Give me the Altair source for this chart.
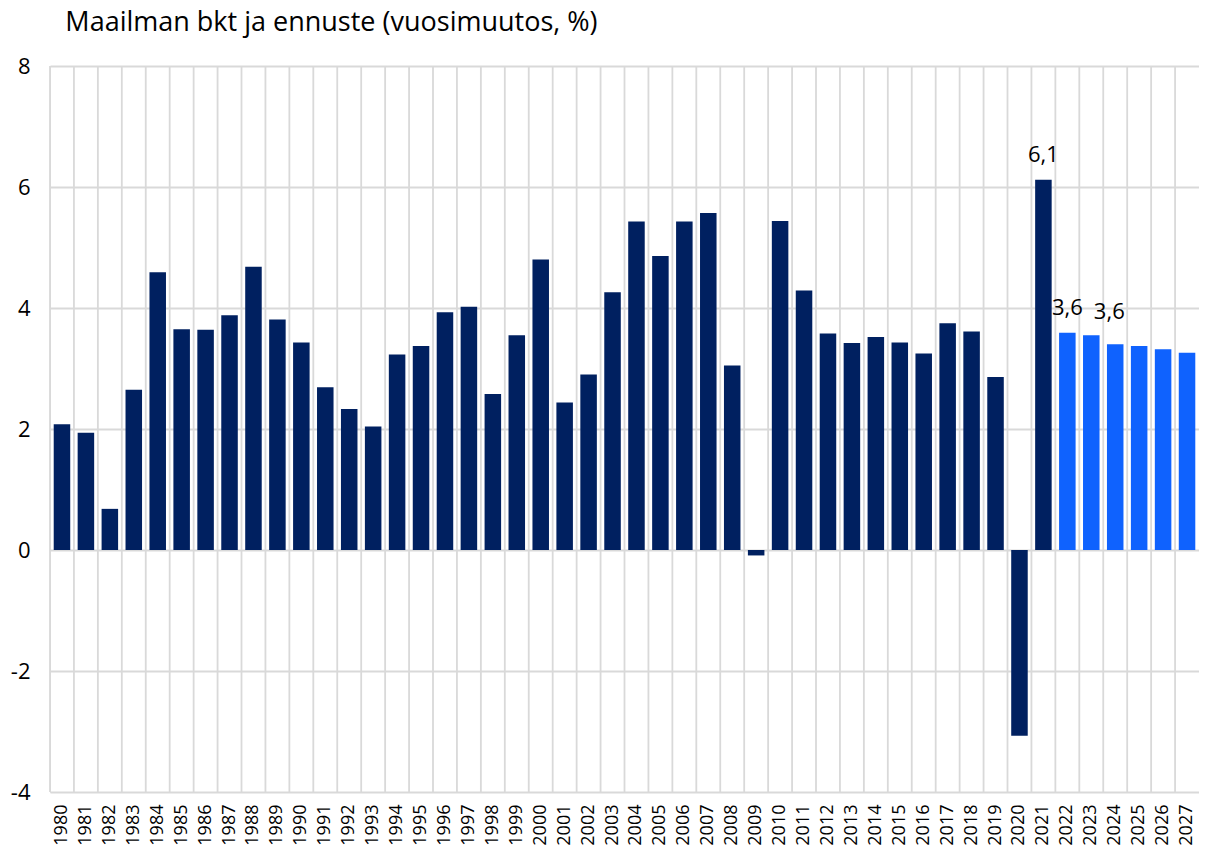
import altair as alt
import pandas as pd

years = ["1980", "1981", "1982", "1983", "1984", "1985", "1986", "1987", "1988", "1989",
         "1990", "1991", "1992", "1993", "1994", "1995", "1996", "1997", "1998", "1999",
         "2000", "2001", "2002", "2003", "2004", "2005", "2006", "2007", "2008", "2009",
         "2010", "2011", "2012", "2013", "2014", "2015", "2016", "2017", "2018", "2019",
         "2020", "2021", "2022", "2023", "2024", "2025", "2026", "2027"]

growth = [2.08, 1.94, 0.68, 2.65, 4.59, 3.65, 3.64, 3.88, 4.68, 3.81,
          3.43, 2.69, 2.33, 2.04, 3.23, 3.37, 3.93, 4.02, 2.58, 3.55,
          4.80, 2.44, 2.90, 4.26, 5.43, 4.86, 5.43, 5.57, 3.05, -0.09,
          5.44, 4.29, 3.58, 3.42, 3.52, 3.43, 3.25, 3.75, 3.61, 2.86,
          -3.07, 6.12, 3.59, 3.55, 3.40, 3.37, 3.32, 3.26]

kind = ["Toteutunut"] * 42 + ["Ennuste"] * 6

label_years = ["2021", "2022"]
label_texts = ["6,1", "3,6"]
shifted_label_years = ["2023"]
shifted_label_texts = ["3,6"]

y_ticks = [-4, -2, 0, 2, 4, 6, 8]

FONT = "Open Sans"
PLOT_W = 1149
PLOT_H = 726

df = pd.DataFrame({"year": years, "growth": growth, "kind": kind})
lookup = dict(zip(years, growth))
lab = pd.DataFrame({"year": label_years, "growth": [lookup[y] for y in label_years], "text": label_texts})
lab2 = pd.DataFrame({"year": shifted_label_years, "growth": [lookup[y] for y in shifted_label_years],
                     "text": shifted_label_texts})

x_scale = alt.Scale(domain=years, paddingInner=0, paddingOuter=0)
y_scale = alt.Scale(domain=[-4, 8], nice=False, zero=False)

x_axis = alt.Axis(grid=False, ticks=False, tickSize=0, domain=False, labelAngle=270,
                  labelFont=FONT, labelFontSize=18, labelColor="#000000",
                  labelPadding=12, labelOverlap=False)
y_axis = alt.Axis(values=y_ticks, labelExpr="'' + datum.value", grid=True, gridColor="#d9d9d9",
                  gridWidth=1.8, ticks=False, tickSize=0, domain=False, labelFont=FONT,
                  labelFontSize=22, labelColor="#000000", labelPadding=20)

vgrid = alt.Chart(df).mark_rule(color="#d9d9d9", strokeWidth=1.8).encode(
    x=alt.X("year:N", scale=x_scale, sort=years, bandPosition=0, title=None, axis=x_axis),
    y=alt.value(0),
    y2=alt.value(PLOT_H),
)

bars = alt.Chart(df).mark_bar(width=alt.RelativeBandSize(0.69)).encode(
    x=alt.X("year:N", scale=x_scale, sort=years, title=None, axis=x_axis),
    y=alt.Y("growth:Q", scale=y_scale, title=None, axis=y_axis),
    color=alt.Color("kind:N", scale=alt.Scale(domain=["Toteutunut", "Ennuste"],
                                              range=["#002060", "#0F62FE"]), legend=None),
)

labels = alt.Chart(lab).mark_text(font=FONT, fontSize=22, baseline="alphabetic", dy=-18,
                                  color="#000000").encode(
    x=alt.X("year:N", scale=x_scale, sort=years, title=None, axis=x_axis),
    y=alt.Y("growth:Q", scale=y_scale, title=None, axis=y_axis),
    text="text:N",
)

labels2 = alt.Chart(lab2).mark_text(font=FONT, fontSize=22, baseline="alphabetic", dy=-16, dx=18,
                                    color="#000000").encode(
    x=alt.X("year:N", scale=x_scale, sort=years, title=None, axis=x_axis),
    y=alt.Y("growth:Q", scale=y_scale, title=None, axis=y_axis),
    text="text:N",
)

chart = alt.layer(vgrid, bars, labels, labels2).properties(
    width=PLOT_W,
    height=PLOT_H,
    title=alt.Title("Maailman bkt ja ennuste (vuosimuutos, %)", anchor="start", font=FONT,
                    fontSize=27, fontWeight="normal", color="#000000", baseline="alphabetic",
                    offset=-3, dx=55),
    autosize=alt.AutoSizeParams(type="none"),
    padding={"left": 42, "top": 58, "right": 0, "bottom": 54},
).configure_view(stroke=None).configure(background="#ffffff")

chart.save("out.html", embed_options={"renderer": "svg", "actions": False})
